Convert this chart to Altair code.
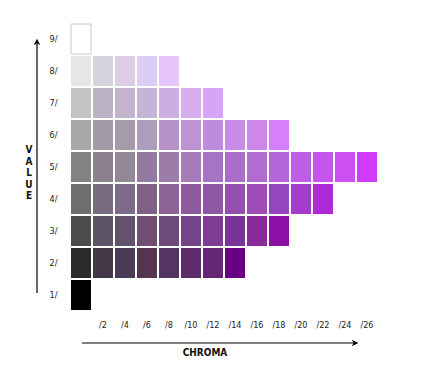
import altair as alt
import pandas as pd

value_labels = ["9/", "8/", "7/", "6/", "5/", "4/", "3/", "2/", "1/"]
chroma_labels = ["N", "/2", "/4", "/6", "/8", "/10", "/12", "/14", "/16", "/18",
                 "/20", "/22", "/24", "/26"]

row_9 = ["#ffffff"]
row_8 = ["#e6e6e6", "#d5d5df", "#dfcde6", "#dccdf6", "#e6c6fd"]
row_7 = ["#c3c3c3", "#bdb3c6", "#c4b3cc", "#c5b4d6", "#cdaee3", "#d7aeee", "#d8a4f7"]
row_6 = ["#a8a8a8", "#a49ba9", "#a59baa", "#ad9cbc", "#b593c9", "#bc94d2",
         "#be8bdd", "#c98ce5", "#cf86eb", "#d57ffc"]
row_5 = ["#828282", "#8b818f", "#948797", "#937aa0", "#9c7ca9", "#a67cbb",
         "#a674c2", "#ac6dca", "#b16cd1", "#b565da", "#be5ee6", "#c655ed",
         "#cc4ff3", "#d03bfd"]
row_4 = ["#6e6e6e", "#776b7d", "#7d6a86", "#7f6188", "#8b6495", "#8e589c",
         "#8f56a6", "#9550af", "#9d4cb8", "#9545c0", "#a43bce", "#ad2ad5"]
row_3 = ["#4b4b4b", "#5d5466", "#64536c", "#704e72", "#6e4b7c", "#744489",
         "#7f3c93", "#7a3399", "#8a2a9b", "#8c10a6"]
row_2 = ["#2a2a2a", "#423848", "#4a3a55", "#55344f", "#543462", "#5d2c6a",
         "#642775", "#650083"]
row_1 = ["#000000"]

rows = [row_9, row_8, row_7, row_6, row_5, row_4, row_3, row_2, row_1]

records = []
for v, colors in zip(value_labels, rows):
    for i, c in enumerate(colors):
        records.append({"value": v, "chroma": chroma_labels[i], "color": c})
df = pd.DataFrame(records)

FONT = "'Liberation Sans Narrow', 'DejaVu Sans Condensed', sans-serif"
W, H = 308, 288

cells = alt.Chart(df).mark_rect(strokeWidth=1).encode(
    x=alt.X("chroma:O", sort=chroma_labels,
            scale=alt.Scale(paddingInner=1 / 11, paddingOuter=1 / 22),
            axis=alt.Axis(title=None, domain=False, ticks=False, labelPadding=9,
                          labelAngle=0, labelFont=FONT, labelFontSize=9,
                          labelColor="#222222",
                          labelExpr="datum.value == 'N' ? '' : datum.value")),
    y=alt.Y("value:O", sort=value_labels,
            scale=alt.Scale(paddingInner=1 / 16, paddingOuter=1 / 32),
            axis=alt.Axis(title=None, domain=False, ticks=False, labelPadding=13,
                          labelFont=FONT, labelFontSize=9, labelColor="#222222")),
    fill=alt.Color("color:N", scale=None),
    stroke=alt.condition(alt.datum.value == "9/", alt.value("#c8c8c8"),
                         alt.value("transparent")),
)

arrow_path = "M-1,1 L0,-1 L1,1 L0,0.4 Z"

v_line = alt.Chart().mark_rule(color="black", strokeWidth=1.2).encode(
    x=alt.value(-33), y=alt.value(18), y2=alt.value(270))
v_head = alt.Chart().mark_point(shape=arrow_path, filled=True, color="black",
                                size=45, opacity=1).encode(
    x=alt.value(-33), y=alt.value(19))
v_text = alt.Chart().mark_text(text="V\nA\nL\nU\nE", lineBreak="\n", lineHeight=11.5,
                               font=FONT, fontSize=10, fontWeight="bold",
                               color="#111111", baseline="middle").encode(
    x=alt.value(-41), y=alt.value(127))

h_line = alt.Chart().mark_rule(color="black", strokeWidth=1.2).encode(
    x=alt.value(12), x2=alt.value(286), y=alt.value(320))
h_head = alt.Chart().mark_point(shape=arrow_path, filled=True, color="black",
                                size=45, opacity=1, angle=90).encode(
    x=alt.value(285), y=alt.value(320))
h_text = alt.Chart().mark_text(text="CHROMA", font=FONT, fontSize=10,
                               fontWeight="bold", color="#111111",
                               baseline="middle").encode(
    x=alt.value(135), y=alt.value(330))

chart = alt.layer(cells, v_line, v_head, v_text, h_line, h_head, h_text).properties(
    width=W, height=H,
    autosize=alt.AutoSizeParams(type="none"),
    padding={"left": 62, "top": 15, "right": 39, "bottom": 48},
).configure_view(stroke=None)

chart.save("out.html", embed_options={"renderer": "svg", "actions": False})
